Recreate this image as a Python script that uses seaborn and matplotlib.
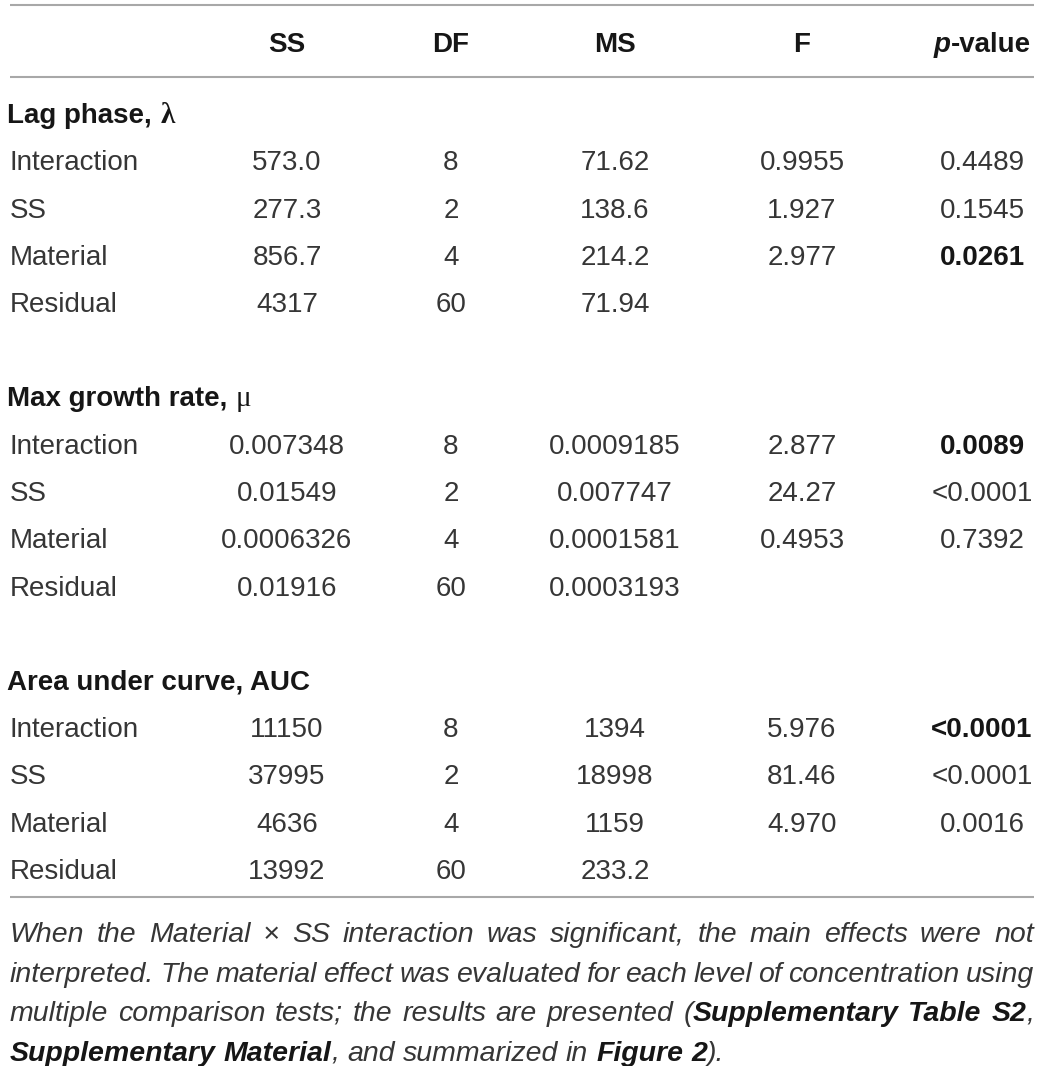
import re
import matplotlib
matplotlib.use("Agg")
import matplotlib.pyplot as plt
import seaborn as sns
import pandas as pd

# ---- table data ----
columns = ["SS", "DF", "MS", "F", "p-value"]
sources = ["Interaction", "SS", "Material", "Residual"]
section_names = ["Lag phase, ", "Max growth rate, ", "Area under curve, AUC"]
section_symbols = ["\u03bb", "\u03bc", ""]

lag_ss = ["573.0", "277.3", "856.7", "4317"]
lag_df = ["8", "2", "4", "60"]
lag_ms = ["71.62", "138.6", "214.2", "71.94"]
lag_f = ["0.9955", "1.927", "2.977", ""]
lag_p = ["0.4489", "0.1545", "0.0261", ""]

mu_ss = ["0.007348", "0.01549", "0.0006326", "0.01916"]
mu_df = ["8", "2", "4", "60"]
mu_ms = ["0.0009185", "0.007747", "0.0001581", "0.0003193"]
mu_f = ["2.877", "24.27", "0.4953", ""]
mu_p = ["0.0089", "<0.0001", "0.7392", ""]

auc_ss = ["11150", "37995", "4636", "13992"]
auc_df = ["8", "2", "4", "60"]
auc_ms = ["1394", "18998", "1159", "233.2"]
auc_f = ["5.976", "81.46", "4.970", ""]
auc_p = ["<0.0001", "<0.0001", "0.0016", ""]

# which p-values are printed in bold (section, row)
bold_p = [(0, 2), (1, 0), (2, 0)]

# footnote lines, **...** marks bold
footnote = [
    "When the Material \u00d7 SS interaction was significant, the main effects were not",
    "interpreted. The material effect was evaluated for each level of concentration using",
    "multiple comparison tests; the results are presented (**Supplementary Table S2**,",
    "**Supplementary Material**, and summarized in **Figure 2**).",
]

blocks = [
    [lag_ss, lag_df, lag_ms, lag_f, lag_p],
    [mu_ss, mu_df, mu_ms, mu_f, mu_p],
    [auc_ss, auc_df, auc_ms, auc_f, auc_p],
]
frames = [pd.DataFrame(dict(zip(columns, b)), index=sources) for b in blocks]

# ---- style ----
sns.set_theme(style="white")
plt.rcParams["font.family"] = ["Liberation Sans", "DejaVu Sans"]
FS = 20
TXT = "#363636"
DARK = "#161616"
RULE = "#a8a8a8"

fig = plt.figure(figsize=(10.44, 10.66), dpi=100)
ax = fig.add_axes([0, 0, 1, 1])
ax.set_xlim(0, 1044)
ax.set_ylim(1066, 0)
ax.axis("off")
renderer = fig.canvas.get_renderer()

col_x = [287, 451, 615, 802, 982]
left_x = 10
row0 = 113
pitch = 47.25
half_cap = 10

def width_of(t):
    return t.get_window_extent(renderer).width

# rules
ax.hlines([5, 77, 897], 10, 1034, color=RULE, lw=1.5)

# header
hy = 42 + half_cap
for name, x in zip(columns[:-1], col_x[:-1]):
    ax.text(x, hy, name, ha="center", va="baseline", fontsize=FS,
            fontweight="bold", color=DARK)
tp = ax.text(0, hy, "p", fontsize=FS, fontweight="bold", style="italic",
             va="baseline", color=DARK)
tv = ax.text(0, hy, "-value", fontsize=FS, fontweight="bold", va="baseline",
             color=DARK)
wp, wv = width_of(tp), width_of(tv)
start = col_x[-1] - (wp + wv) / 2
tp.set_x(start)
tv.set_x(start + wp)

# body
for s, df in enumerate(frames):
    base = s * 6
    y = row0 + pitch * base + half_cap
    th = ax.text(7, y, section_names[s], fontsize=FS, fontweight="bold",
                 va="baseline", color=DARK)
    if section_symbols[s]:
        ax.text(7 + width_of(th) + 1, y, section_symbols[s], fontsize=FS + 1,
                family="Liberation Serif",
                fontweight="bold" if s == 0 else "normal",
                va="baseline", color=DARK)
    for r, src in enumerate(df.index):
        y = row0 + pitch * (base + 1 + r) + half_cap
        ax.text(left_x, y, src, fontsize=FS, va="baseline", color=TXT)
        for c, col in enumerate(columns):
            val = df.loc[src, col]
            if not val:
                continue
            isb = c == 4 and (s, r) in bold_p
            ax.text(col_x[c], y, val, fontsize=FS, ha="center", va="baseline",
                    fontweight="bold" if isb else "normal",
                    color=DARK if isb else TXT)

# footnote, justified
FFS = 20.5

def parse(line):
    words, cur, bold = [], [], False
    for part in re.split(r"(\*\*)", line):
        if part == "**":
            bold = not bold
            continue
        pieces = part.split(" ")
        for i, p in enumerate(pieces):
            if i > 0:
                if cur:
                    words.append(cur)
                cur = []
            if p:
                cur.append((p, bold))
    if cur:
        words.append(cur)
    return words

probe1 = ax.text(0, 0, "x x", fontsize=FFS, style="italic")
probe2 = ax.text(0, 0, "xx", fontsize=FFS, style="italic")
space_w = width_of(probe1) - width_of(probe2)
probe1.remove()
probe2.remove()

fy0 = 942
fpitch = 39.6
for li, line in enumerate(footnote):
    words = parse(line)
    y = fy0 + fpitch * li
    items = []
    for w in words:
        arts = []
        for text, b in w:
            t = ax.text(0, y, text, fontsize=FFS, style="italic",
                        fontweight="bold" if b else "normal",
                        va="baseline", color=DARK if b else TXT)
            arts.append((t, width_of(t)))
        items.append(arts)
    wsum = [sum(wd for _, wd in a) for a in items]
    last = li == len(footnote) - 1
    gap = space_w if last else (1034 - 10 - sum(wsum)) / (len(items) - 1)
    x = 10
    for arts, ww in zip(items, wsum):
        xx = x
        for t, wd in arts:
            t.set_x(xx)
            xx += wd
        x += ww + gap

fig.savefig("out.png", dpi=100)
